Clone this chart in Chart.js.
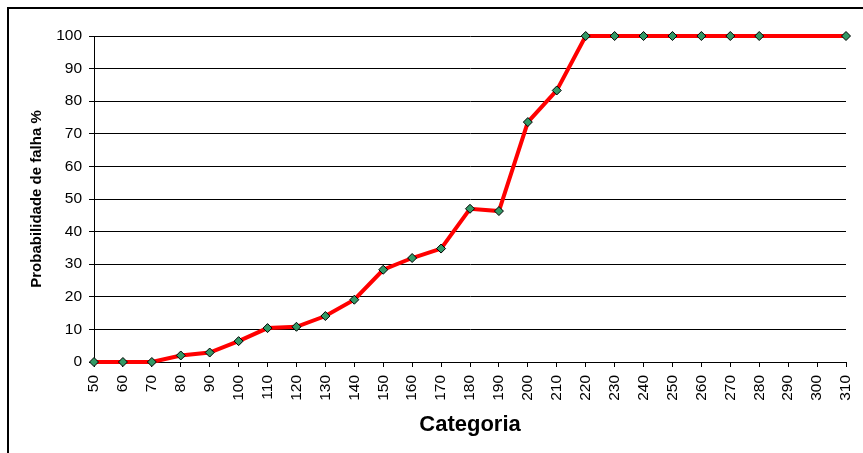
<!DOCTYPE html>
<html>
<head>
<meta charset="utf-8">
<script src="https://cdn.jsdelivr.net/npm/chart.js@4/dist/chart.umd.min.js"></script>
<style>
    body { margin: 0; background: #fff; }
    #wrap { position: relative; width: 863px; height: 453px; overflow: hidden; }
    #frame { position: absolute; left: 7px; top: 7px; width: 900px; height: 500px; border: 2px solid #000; }
    #chart { position: absolute; left: 0; top: 0; }
</style>
</head>
<body>
<div id="wrap">
    <div id="frame"></div>
    <canvas id="chart" width="863" height="453"></canvas>
</div>
<script>
    const categories = [
        "50", "60", "70", "80", "90", "100", "110", "120", "130", "140",
        "150", "160", "170", "180", "190", "200", "210", "220", "230", "240",
        "250", "260", "270", "280", "290", "300", "310",
    ];
    // 290 and 300 have no value, the line just runs over them
    const failureProbability = [
        0, 0, 0, 2.0, 2.9, 6.4, 10.4, 10.8, 14.1, 19.1,
        28.3, 31.9, 34.8, 47.0, 46.3, 73.6, 83.3, 100, 100, 100,
        100, 100, 100, 100, null, null, 100,
    ];
    const yMin = 0;
    const yMax = 100;
    const yStep = 10;

    const fontFamily = "'Liberation Sans', Arial, sans-serif";

    new Chart(document.getElementById("chart").getContext("2d"), {
        type: "line",
        data: {
            labels: categories,
            datasets: [
                {
                    data: failureProbability,
                    borderColor: "#ff0000",
                    borderWidth: 4,
                    tension: 0,
                    spanGaps: true,
                    clip: false,
                    pointStyle: "rectRot",
                    pointRadius: 4.5,
                    pointBackgroundColor: "#339966",
                    pointBorderColor: "#000",
                    pointBorderWidth: 1,
                },
            ],
        },
        options: {
            responsive: false,
            animation: false,
            devicePixelRatio: 1,
            layout: {
                padding: { top: 36, right: 17, left: 0, bottom: 0 },
            },
            plugins: {
                legend: { display: false },
                tooltip: { enabled: false },
            },
            scales: {
                x: {
                    offset: false,
                    afterFit: function (scale) {
                        scale.height = 91;
                        // keep the plot edges fixed, the layout padding is enough
                        scale.paddingLeft = 0;
                        scale.paddingRight = 0;
                    },
                    grid: {
                        drawOnChartArea: false,
                        drawTicks: true,
                        tickLength: 5,
                        color: "#000",
                    },
                    border: { color: "#000", width: 1 },
                    ticks: {
                        minRotation: 90,
                        maxRotation: 90,
                        autoSkip: false,
                        padding: 8,
                        color: "#000",
                        font: { family: fontFamily, size: 15.5 },
                    },
                    title: {
                        display: true,
                        text: "Categoria",
                        color: "#000",
                        padding: { top: 0, bottom: 15 },
                        font: { family: fontFamily, size: 22, weight: "bold" },
                    },
                },
                y: {
                    min: yMin,
                    max: yMax,
                    afterFit: function (scale) {
                        scale.width = 94;
                    },
                    grid: {
                        color: "#000",
                        lineWidth: 1,
                        tickLength: 5,
                    },
                    border: { color: "#000", width: 1 },
                    ticks: {
                        stepSize: yStep,
                        padding: 7,
                        color: "#000",
                        font: { family: fontFamily, size: 15.5 },
                    },
                    title: {
                        display: true,
                        text: "Probabilidade de falha %",
                        color: "#000",
                        padding: { top: 28, bottom: 0 },
                        font: { family: fontFamily, size: 15, weight: "bold" },
                    },
                },
            },
        },
    });
</script>
</body>
</html>
